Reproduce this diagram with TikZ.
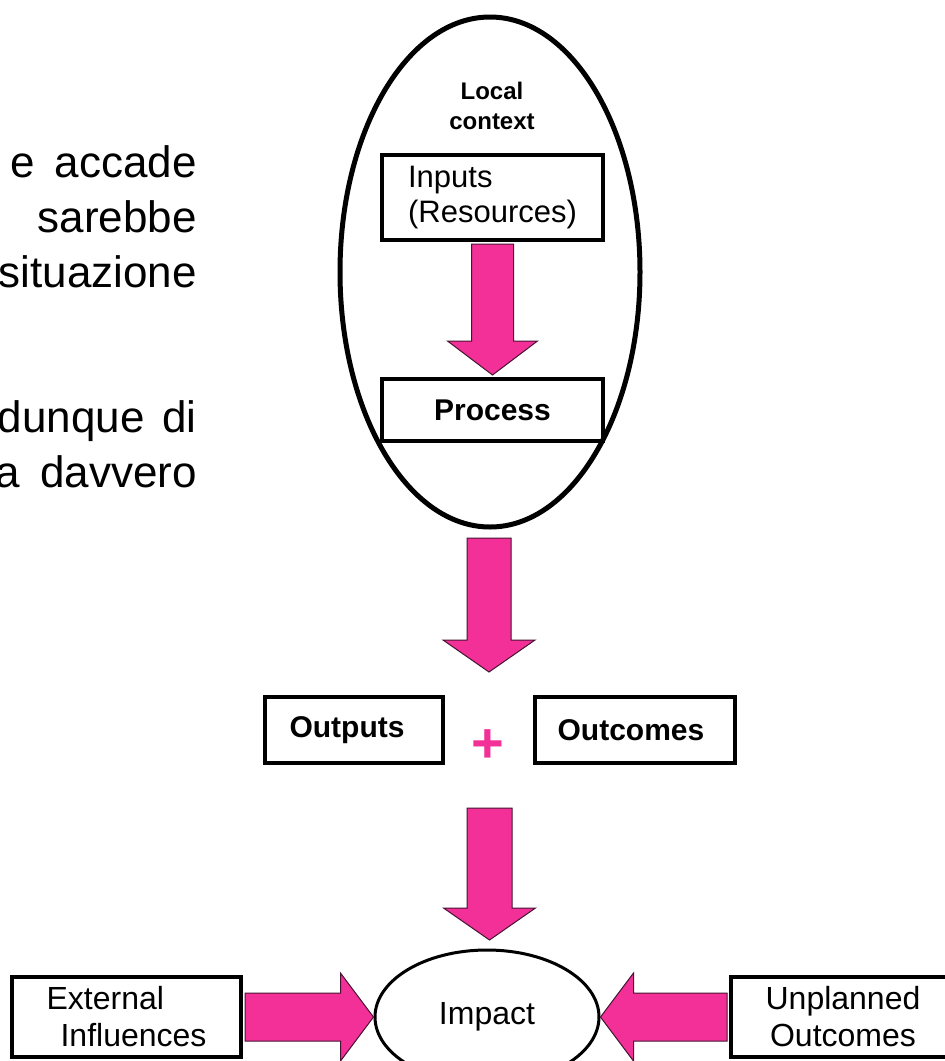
\documentclass[tikz,border=0pt]{standalone}
\usepackage{fontspec}
\setmainfont{Liberation Sans}
\usetikzlibrary{shapes.geometric,calc}
\definecolor{hotpink}{RGB}{242,48,152}
\definecolor{arrowedge}{RGB}{70,20,50}
\newcommand\fatdown[5]{%
  \path[fat] let \p1=#1, \p2=#2 in
    (\x2-#3,\y1) -- (\x2+#3,\y1) -- (\x2+#3,\y2+#5) -- (\x2+#4,\y2+#5) -- (\x2,\y2)
    -- (\x2-#4,\y2+#5) -- (\x2-#3,\y2+#5) -- cycle;}
\newcommand\fatright[5]{%
  \path[fat] let \p1=#1, \p2=#2 in
    (\x1,\y2+#3) -- (\x2-#5,\y2+#3) -- (\x2-#5,\y2+#4) -- (\x2,\y2)
    -- (\x2-#5,\y2-#4) -- (\x2-#5,\y2-#3) -- (\x1,\y2-#3) -- cycle;}
\newcommand\fatleft[5]{%
  \path[fat] let \p1=#1, \p2=#2 in
    (\x1,\y2+#3) -- (\x2+#5,\y2+#3) -- (\x2+#5,\y2+#4) -- (\x2,\y2)
    -- (\x2+#5,\y2-#4) -- (\x2+#5,\y2-#3) -- (\x1,\y2-#3) -- cycle;}
\begin{document}
\begin{tikzpicture}[x=1pt,y=-1pt,
  box/.style={draw=black, line width=4pt, rectangle, inner sep=0pt},
  fat/.style={fill=hotpink, draw=arrowedge, line width=1pt, line join=miter},
  lefttext/.style={anchor=base east, inner sep=0pt, font=\fontsize{44}{52}\selectfont},
  boxtext/.style={font=\fontsize{31}{35}\selectfont},
  boldtext/.style={font=\bfseries\fontsize{30}{36}\selectfont},
  bottomtext/.style={font=\fontsize{32}{37}\selectfont}]
\useasboundingbox (0,0) rectangle (945,1061);
\clip (0,0) rectangle (945,1061);
\fill[white] (0,0) rectangle (945,1061);

% left text (cut off paragraph)
\node[lefttext] (t1) at (197,177) {e\hspace{20pt}accade};
\node[lefttext] (t2) at (197,232) {sarebbe};
\node[lefttext] (t3) at (197,287) {situazione};
\node[lefttext] (t4) at (197,432) {dunque\hspace{18pt}di};
\node[lefttext] (t5) at (197,487) {a\hspace{20pt}davvero};

% local context ellipse
\node[draw=black, line width=5pt, ellipse, minimum width=300pt, minimum height=510pt, inner sep=0pt] (ctx) at (490,272) {};
\node[font=\bfseries\fontsize{24}{30}\selectfont, align=center] (local) at (492,106) {Local\\context};
\node[box, minimum width=221pt, minimum height=85pt, align=left, boxtext] (inputs) at (492.5,197.5) {Inputs\\(Resources)};
\node[box, minimum width=221pt, minimum height=62pt, boldtext] (process) at (492.5,410) {Process};

% outputs / outcomes
\node[box, minimum width=178pt, minimum height=66pt, boldtext] (outputs) at (354,730) {\hspace*{-14pt}Outputs};
\node[box, minimum width=200pt, minimum height=66pt, boldtext] (outcomes) at (635,730) {\hspace*{-8pt}Outcomes};
\node[text=hotpink, font=\bfseries\fontsize{56}{56}\selectfont, inner sep=0pt] (plus) at (488,746) {+};

% impact row
\node[draw=black, line width=3pt, ellipse, minimum width=224pt, minimum height=134pt, inner sep=0pt, bottomtext] (impact) at (487,1017) {Impact};
\node[box, minimum width=229pt, minimum height=80pt, align=left, bottomtext] (external) at (126.5,1017) {External\\\hspace*{14pt}Influences};
\node[box, minimum width=224pt, minimum height=80pt, align=center, bottomtext] (unplanned) at (843,1017) {Unplanned\\Outcomes};

% connector coordinates
\coordinate (a2top) at (489,538);
\coordinate (a2tip) at (489,672);
\coordinate (a3top) at (489.5,808);
\coordinate (a3tip) at (489.5,940);

% fat arrows
\fatdown{($(inputs.south)+(0,2)$)}{($(process.north)+(0,-2)$)}{21pt}{45pt}{34pt}
\fatdown{(a2top)}{(a2tip)}{22pt}{46pt}{32pt}
\fatdown{(a3top)}{(a3tip)}{22.5pt}{46pt}{32pt}
\fatright{($(external.east)+(2,0)$)}{(impact.west)}{24pt}{44pt}{33pt}
\fatleft{($(unplanned.west)+(-2,0)$)}{(impact.east)}{24pt}{44pt}{33pt}
\end{tikzpicture}
\end{document}
